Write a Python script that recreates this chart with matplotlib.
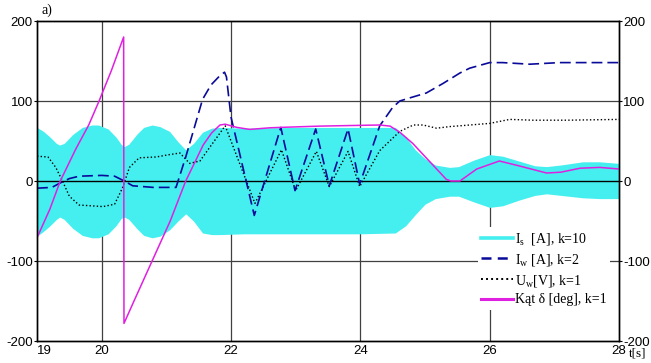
import matplotlib
matplotlib.use("Agg")
import matplotlib.pyplot as plt
from matplotlib.lines import Line2D

plt.rcParams['mathtext.fontset'] = 'custom'
plt.rcParams['mathtext.rm'] = 'Liberation Serif'
plt.rcParams['mathtext.it'] = 'Liberation Serif:italic'

# ---------------- data ----------------
# I_s envelope (k=10) - fast oscillation drawn as its band
t_is = [19.0, 19.1, 19.2, 19.3, 19.35, 19.42, 19.55, 19.7, 19.85, 19.95, 20.1, 20.22, 20.3,
        20.35, 20.42, 20.55, 20.65, 20.78, 20.9, 21.05, 21.18, 21.3, 21.42, 21.56, 21.7,
        21.82, 22.2, 23.0, 24.0, 24.54, 24.7, 24.85, 25.0, 25.16, 25.38, 25.52, 25.75,
        26.0, 26.2, 26.45, 26.7, 26.88, 27.1, 27.44, 27.7, 28.0]
is_up = [67, 62, 55, 47, 45, 47, 58, 67, 70, 70, 65, 55, 46,
         43, 46, 59, 67, 70, 68, 62, 49, 39, 47, 61, 66,
         67, 66, 67, 67, 67, 55, 39, 28, 20, 17, 18, 26,
         33, 31, 25, 19, 18, 20, 24, 24, 22]
is_lo = [-69, -63, -56, -48, -45, -48, -59, -68, -71, -71, -66, -56, -47,
         -45, -48, -60, -68, -71, -69, -61, -50, -41, -50, -65, -67,
         -67, -66, -66, -66, -65, -56, -42, -29, -22, -19, -19, -26,
         -33, -31, -24, -18, -16, -18, -21, -22, -22]

# I_w (k=2)
t_iw = [19.0, 19.23, 19.37, 19.5, 19.65, 20.0, 20.2, 20.35, 20.48, 20.8, 21.15, 21.3,
        21.56, 21.69, 21.82, 21.9, 21.93, 22.0, 22.36, 22.77, 22.99, 23.31, 23.52, 23.81,
        23.99, 24.3, 24.5, 24.61, 24.77, 25.02, 25.28, 25.54, 25.69, 26.0, 26.2, 26.41,
        26.62, 27.08, 28.0]
iw = [-9, -8, -2, 3, 6, 7, 6, 0, -6, -8, -8, 30,
      102, 120, 131, 136, 130, 80, -43, 67, -12, 65, -6, 65,
      -4, 69, 92, 100, 104, 110, 122, 135, 141, 148, 148, 147,
      146, 148, 148]

# U_w (k=1)
t_uw = [19.0, 19.17, 19.29, 19.4, 19.5, 19.65, 20.02, 20.2, 20.32, 20.43, 20.58, 20.84,
        21.05, 21.21, 21.36, 21.52, 21.91, 22.37, 22.78, 23.0, 23.32, 23.52, 23.81, 23.99,
        24.3, 24.61, 24.82, 24.97, 25.18, 25.38, 25.54, 26.0, 26.31, 26.67, 27.2, 28.0]
uw = [31, 30, 17, -1, -19, -30, -32, -29, -9, 17, 29, 30,
      33, 35, 22, 25, 69, -28, 39, -12, 37, -7, 37, -7,
      38, 62, 70, 70, 66, 68, 69, 72, 77, 76, 76, 77]

# Kat delta (k=1)
t_d = [19.0, 19.2, 19.36, 19.6, 19.8, 19.96, 20.15, 20.34, 20.345, 20.5, 20.78, 21.06,
       21.3, 21.57, 21.7, 21.83, 21.91, 22.09, 22.29, 22.6, 22.76, 23.37, 23.63, 24.3,
       24.46, 24.61, 24.81, 25.07, 25.33, 25.4, 25.54, 25.8, 26.15, 26.45, 26.88, 27.1,
       27.4, 27.7, 28.0]
delta = [-71, -35, 0, 40, 70, 100, 138, 180, -178, -150, -100, -50,
         0, 45, 60, 70, 71, 67, 64.5, 66.5, 67, 68.6, 69, 70,
         68.6, 61, 47, 24.5, 2, 0, 0, 15, 25, 19, 10, 11, 16, 17, 15]

x_ticks = [19, 20, 22, 24, 26, 28]
x_labels = ['19', '20', '22', '24', '26', '28']
y_ticks = [-200, -100, 0, 100, 200]
y_labels = ['-200', '-100', '0', '100', '200']
legend_labels = ['I$_\\mathrm{s}$  [A], k=10', 'I$_\\mathrm{w}$ [A], k=2',
                 'U$_\\mathrm{w}$[V], k=1', 'Kąt δ [deg], k=1']

# ---------------- styles ----------------
C_IS = '#45EFEF'
C_IW = '#0A0A9A'
C_UW = '#000000'
C_D = '#E020E0'
GRID = '#404040'

fig = plt.figure(figsize=(6.51, 3.63), dpi=100)
ax = fig.add_axes([37 / 651, 22 / 363, 582 / 651, 320 / 363])

ax.set_xlim(19, 28)
ax.set_ylim(-200, 200)

for xv in [20, 22, 24, 26]:
    ax.axvline(xv, color=GRID, lw=0.9, zorder=0.5)
for yv in [100, -100]:
    ax.axhline(yv, color=GRID, lw=0.9, zorder=0.5)

ax.fill_between(t_is, is_lo, is_up, color=C_IS, lw=0, zorder=1)
ax.axhline(0, color='black', lw=1.0, zorder=2)

ax.plot(t_uw, uw, color=C_UW, lw=1.0, dashes=(1.0, 1.6), zorder=3)
ax.plot(t_iw, iw, color=C_IW, lw=1.2, dashes=(6.5, 3), zorder=4)
ax.plot(t_d, delta, color=C_D, lw=1.1, zorder=5)

sans = 'Liberation Sans'
serif = 'Liberation Serif'

ax.set_xticks(x_ticks)
ax.set_xticklabels(x_labels, fontsize=9.5, family=sans)
ax.get_xticklabels()[0].set_horizontalalignment('left')
ax.tick_params(axis='x', length=0, pad=3)
ax.set_yticks(y_ticks)
ax.set_yticklabels(y_labels, fontsize=9.5, family=sans)
ax.tick_params(axis='y', length=2, pad=1, color='black')

ax2 = ax.twinx()
ax2.set_ylim(-200, 200)
ax2.set_yticks(y_ticks)
ax2.set_yticklabels(y_labels, fontsize=9.5, family=sans)
ax2.tick_params(axis='y', length=2, pad=1)

for a in (ax, ax2):
    for s in a.spines.values():
        s.set_linewidth(1.0)
        s.set_color('black')

fig.text(42 / 651, 1 - 10 / 363, 'a)', fontsize=10, family=serif, va='center', ha='left')
fig.text(629 / 651, 1 - 354 / 363, 't[s]', fontsize=9.5, family=serif, va='center', ha='left')

handles = [Line2D([], [], color=C_IS, lw=2.6),
           Line2D([], [], color=C_IW, lw=1.8, dashes=(4, 2.5)),
           Line2D([], [], color=C_UW, lw=1.4, dashes=(1, 1.6)),
           Line2D([], [], color=C_D, lw=2.2)]
leg = ax2.legend(handles, legend_labels, loc='upper left', bbox_to_anchor=(0.757, 0.355),
                 borderaxespad=0, frameon=True, facecolor='white', edgecolor='none',
                 framealpha=1, fancybox=False, handlelength=2.3, handletextpad=0.15,
                 labelspacing=0.35, borderpad=0.25, prop={'family': serif, 'size': 10})
leg.set_zorder(10)

fig.savefig('out.png', dpi=100)
